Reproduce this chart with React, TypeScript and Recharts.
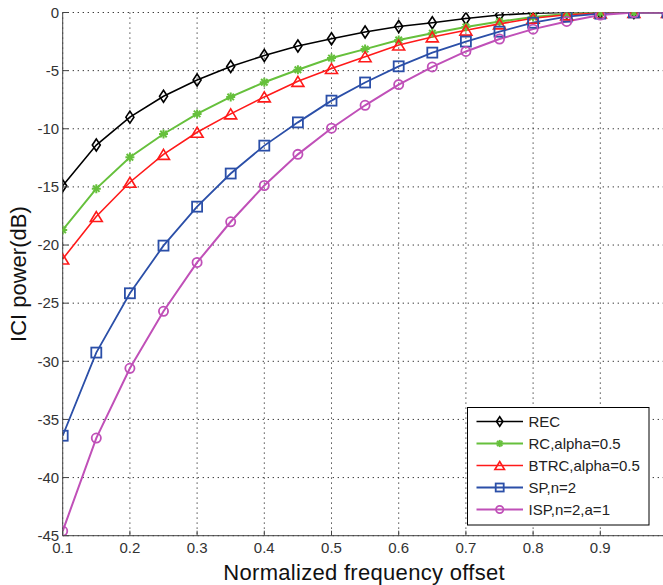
import React from 'react';
import { LineChart, Line, XAxis, YAxis, CartesianGrid } from 'recharts';

const offsets = [0.1, 0.15, 0.2, 0.25, 0.3, 0.35, 0.4, 0.45, 0.5, 0.55, 0.6, 0.65, 0.7, 0.75, 0.8, 0.85, 0.9, 0.95, 1.0];
const rec = [-14.9, -11.4, -9.0, -7.2, -5.8, -4.65, -3.7, -2.88, -2.26, -1.68, -1.2, -0.88, -0.52, -0.22, -0.07, 0, 0, 0, 0];
const rc = [-18.7, -15.15, -12.45, -10.45, -8.72, -7.26, -6.0, -4.92, -3.92, -3.15, -2.36, -1.78, -1.25, -0.78, -0.38, -0.12, 0, 0, 0];
const btrc = [-21.2, -17.55, -14.6, -12.2, -10.3, -8.72, -7.26, -5.92, -4.82, -3.8, -2.8, -2.1, -1.52, -0.98, -0.5, -0.2, -0.04, 0, 0];
const sp = [-36.4, -29.25, -24.15, -20.05, -16.7, -13.85, -11.45, -9.45, -7.58, -6.02, -4.63, -3.45, -2.5, -1.65, -0.88, -0.36, -0.1, 0, 0];
const isp = [-44.6, -36.6, -30.6, -25.7, -21.5, -18.0, -14.88, -12.2, -9.95, -7.98, -6.2, -4.68, -3.35, -2.28, -1.43, -0.77, -0.22, 0, 0];

const xTicks = [0.1, 0.2, 0.3, 0.4, 0.5, 0.6, 0.7, 0.8, 0.9, 1.0];
const xTickLabels = ['0.1', '0.2', '0.3', '0.4', '0.5', '0.6', '0.7', '0.8', '0.9', ''];
const yTicks = [0, -5, -10, -15, -20, -25, -30, -35, -40, -45];

const seriesNames = ['REC', 'RC,alpha=0.5', 'BTRC,alpha=0.5', 'SP,n=2', 'ISP,n=2,a=1'];
const seriesKeys = ['rec', 'rc', 'btrc', 'sp', 'isp'];
const seriesColors = ['#000000', '#66c03c', '#ff1a1a', '#2b4fa8', '#c050b8'];
const seriesMarkers = ['diamond', 'star', 'triangle', 'square', 'circle'];
const seriesWidths = [1.6, 2, 1.6, 1.8, 2];

const data = offsets.map((x, i) => ({
  x,
  rec: rec[i],
  rc: rc[i],
  btrc: btrc[i],
  sp: sp[i],
  isp: isp[i],
}));

const FONT = '"Liberation Sans", Arial, Helvetica, sans-serif';

function Marker({ type, cx, cy, color, s = 1 }: any) {
  if (cx == null || cy == null) return null;
  const sw = 1.6;
  if (type === 'diamond') {
    const w = 4 * s, h = 6 * s;
    return <path d={`M${cx},${cy - h}L${cx + w},${cy}L${cx},${cy + h}L${cx - w},${cy}Z`} fill="none" stroke={color} strokeWidth={sw} />;
  }
  if (type === 'star') {
    const r = 4.5 * s, d = r * 0.72;
    return (
      <g stroke={color} strokeWidth={2}>
        <line x1={cx - r} y1={cy} x2={cx + r} y2={cy} />
        <line x1={cx} y1={cy - r} x2={cx} y2={cy + r} />
        <line x1={cx - d} y1={cy - d} x2={cx + d} y2={cy + d} />
        <line x1={cx - d} y1={cy + d} x2={cx + d} y2={cy - d} />
      </g>
    );
  }
  if (type === 'triangle') {
    const w = 6 * s, h = 5 * s;
    return <path d={`M${cx},${cy - h}L${cx + w},${cy + h}L${cx - w},${cy + h}Z`} fill="none" stroke={color} strokeWidth={sw} />;
  }
  if (type === 'square') {
    const a = 5 * s;
    return <rect x={cx - a} y={cy - a} width={2 * a} height={2 * a} fill="none" stroke={color} strokeWidth={1.8} />;
  }
  return <circle cx={cx} cy={cy} r={4.6 * s} fill="none" stroke={color} strokeWidth={1.8} />;
}

const XTick = (props: any) => {
  const { x, y, payload } = props;
  const i = xTicks.indexOf(payload.value);
  return (
    <g>
      <line x1={x} y1={y - 7} x2={x} y2={y - 12} stroke="#444" strokeWidth={1} />
      <text x={x} y={y} dy="0.71em" textAnchor="middle" fontSize={15} fontFamily={FONT} fill="#333">
        {i >= 0 ? xTickLabels[i] : ''}
      </text>
    </g>
  );
};

const YTick = (props: any) => {
  const { x, y, payload } = props;
  return (
    <g>
      <line x1={x + 3.5} y1={y} x2={x + 9} y2={y} stroke="#444" strokeWidth={1} />
      <text x={x} y={y} dy="0.355em" textAnchor="end" fontSize={15} fontFamily={FONT} fill="#333">
        {String(payload.value)}
      </text>
    </g>
  );
};

const LegendBox = () => (
  <svg width={183} height={119} style={{ display: 'block' }}>
    <rect x={0.5} y={0.5} width={181.5} height={117.5} fill="#fff" stroke="#000" strokeWidth={1} />
    {seriesNames.map((name, i) => {
      const y = 14.5 + i * 22;
      return (
        <g key={name}>
          <line x1={9.5} y1={y} x2={56} y2={y} stroke={seriesColors[i]} strokeWidth={seriesWidths[i]} />
          <Marker type={seriesMarkers[i]} cx={32.7} cy={y} color={seriesColors[i]} s={0.8} />
          <text x={61.5} y={y} dy="0.355em" fontSize={15} fontFamily={FONT} fill="#222">{name}</text>
        </g>
      );
    })}
  </svg>
);

export default function App() {
  return (
    <div style={{ position: 'absolute', left: 0, top: 0, width: 663, height: 585, overflow: 'hidden', background: '#fff' }}>
      <LineChart width={670} height={585} data={data} margin={{ top: 12.5, right: 2.5, left: 0, bottom: 19.3 }}>
        <CartesianGrid stroke="#222" strokeDasharray="1.2 3.8" vertical horizontal />
        <XAxis
          dataKey="x"
          type="number"
          domain={[0.1, 1.0]}
          ticks={xTicks}
          allowDataOverflow
          height={30}
          tickSize={0}
          tickMargin={7}
          tickLine={false}
          axisLine={{ stroke: '#444', strokeWidth: 1 }}
          tick={<XTick />}
          interval={0}
          label={{
            content: (p: any) => {
              const vb = p.viewBox;
              return (
                <text x={vb.x + vb.width / 2 - 1} y={vb.y + 44.3} textAnchor="middle" fontSize={22} fontFamily={FONT} fill="#111" letterSpacing={0.3}>
                  Normalized frequency offset
                </text>
              );
            },
          }}
        />
        <YAxis
          type="number"
          domain={[-45, 0]}
          ticks={yTicks}
          allowDataOverflow
          width={62.7}
          tickSize={0}
          tickMargin={3.5}
          tickLine={false}
          axisLine={{ stroke: '#444', strokeWidth: 1 }}
          tick={<YTick />}
          interval={0}
          label={{
            content: (p: any) => {
              const vb = p.viewBox;
              const cy = vb.y + vb.height / 2;
              return (
                <text x={26.5} y={cy} transform={`rotate(-90, 26.5, ${cy})`} textAnchor="middle" fontSize={22} fontFamily={FONT} fill="#111">
                  ICI power(dB)
                </text>
              );
            },
          }}
        />
        {seriesKeys.map((k, i) => (
          <Line
            key={k}
            type="linear"
            dataKey={k}
            name={seriesNames[i]}
            stroke={seriesColors[i]}
            strokeWidth={seriesWidths[i]}
            isAnimationActive={false}
            activeDot={false}
            dot={(p: any) => (
              <Marker key={`${k}-${p.index}`} type={seriesMarkers[i]} cx={p.cx} cy={p.cy} color={seriesColors[i]} />
            )}
          />
        ))}
      </LineChart>
      <div style={{ position: 'absolute', left: 467, top: 407, width: 183, height: 119 }}>
        <LegendBox />
      </div>
    </div>
  );
}
